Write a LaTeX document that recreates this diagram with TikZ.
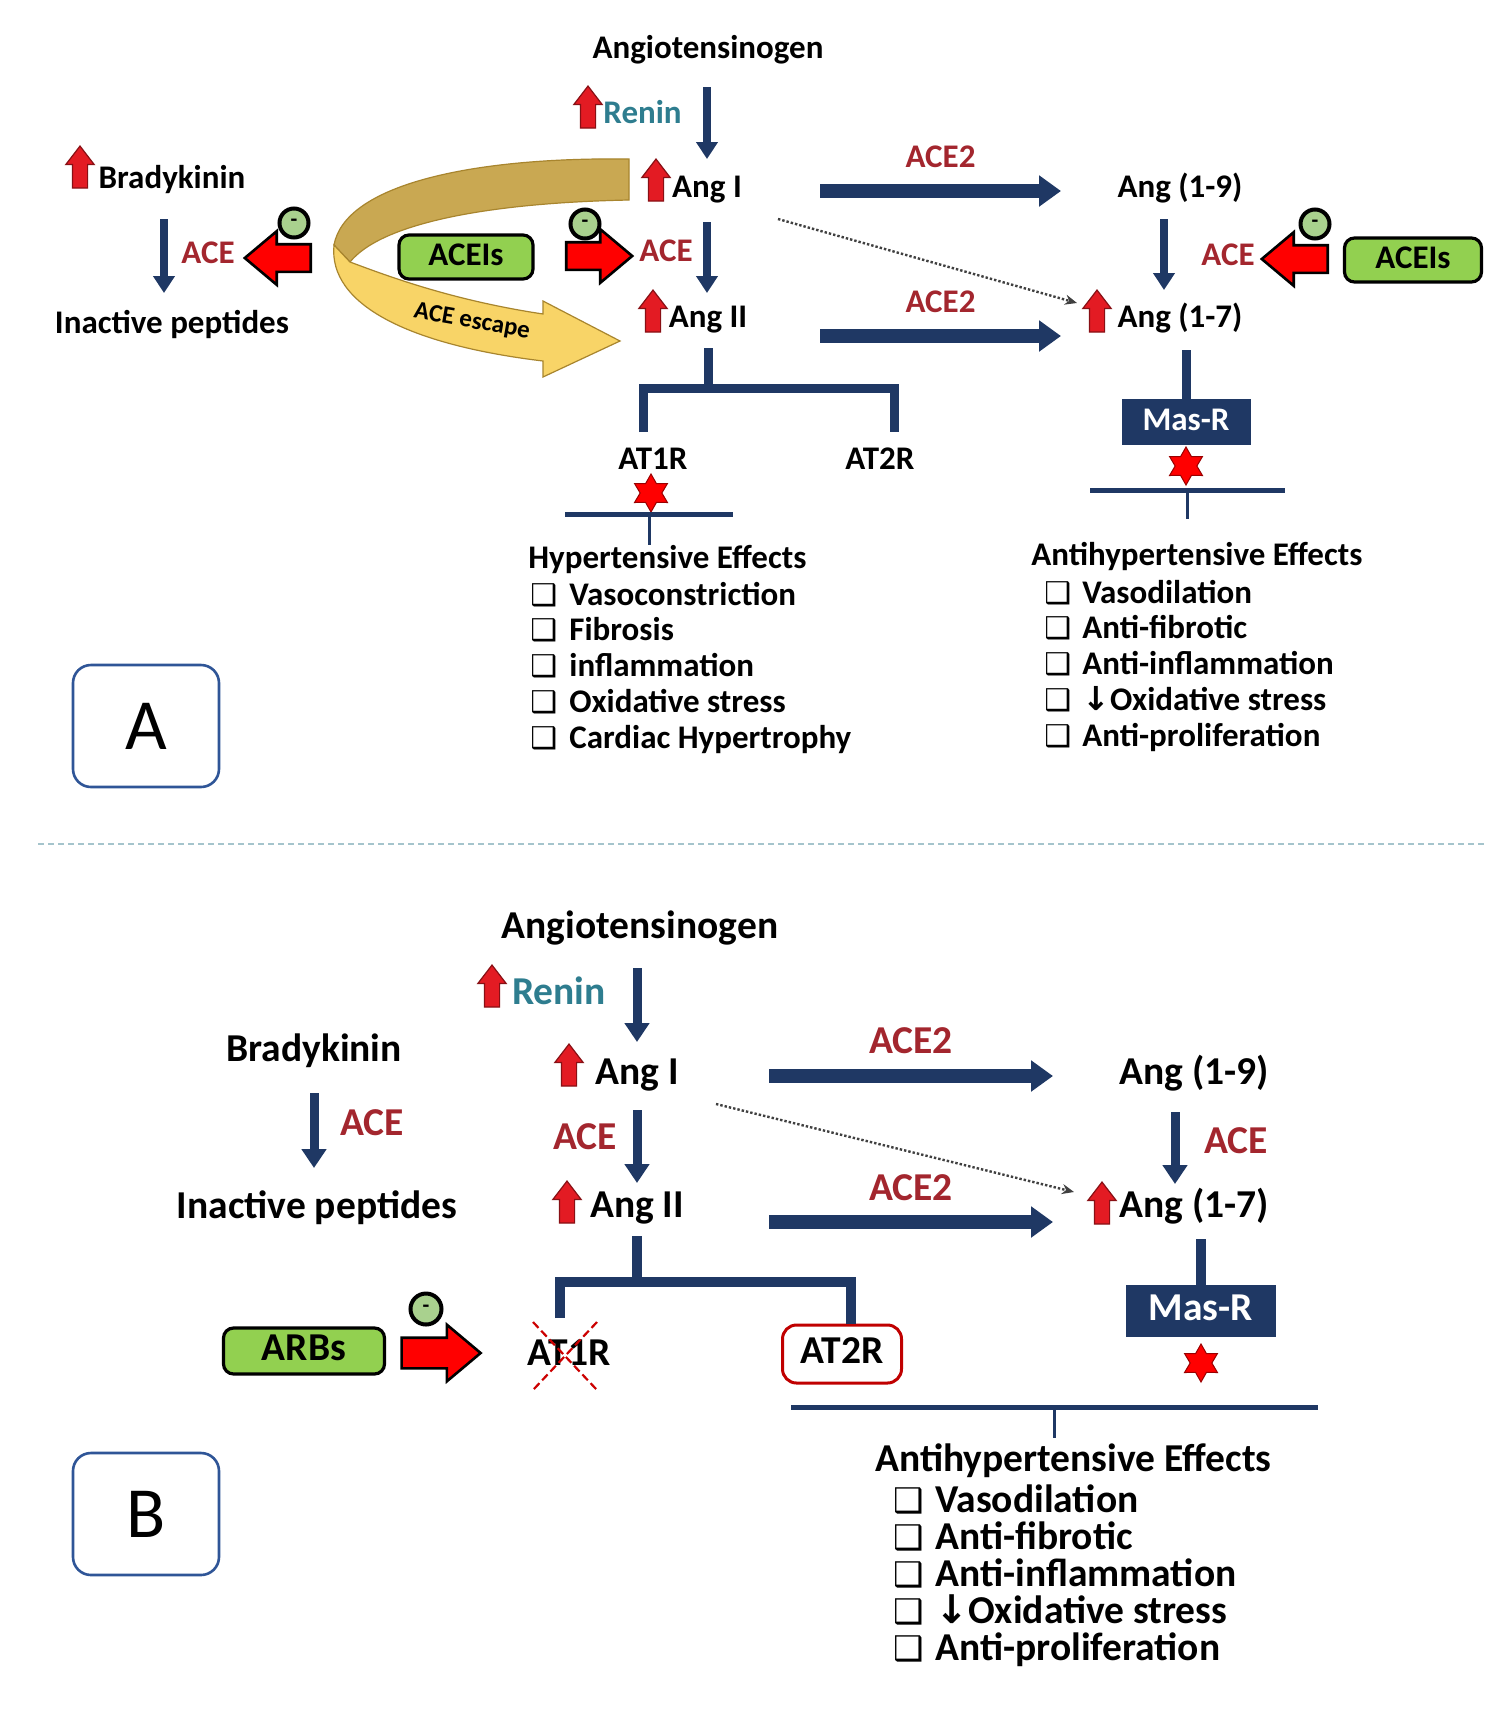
\documentclass[tikz,border=0pt]{standalone}
\usepackage{fontspec}
\setmainfont{Carlito}
\newfontfamily\symfont{DejaVu Sans}
\usetikzlibrary{arrows.meta,positioning,shapes.geometric,shapes.arrows}

\definecolor{navy}{HTML}{1F3864}
\definecolor{enzred}{HTML}{A3262E}
\definecolor{renteal}{HTML}{2E7D8F}
\definecolor{upred}{HTML}{E31B23}
\definecolor{inhgreen}{HTML}{92D050}
\definecolor{minusgreen}{HTML}{A9D18E}
\definecolor{escgold}{HTML}{C9A852}
\definecolor{escyellow}{HTML}{F8D467}
\definecolor{escline}{HTML}{A8852E}
\definecolor{panelblue}{HTML}{2F5597}
\definecolor{sepline}{HTML}{A5C4CC}
\definecolor{at2red}{HTML}{C00000}

% check box of the effect lists: glyph size, box width
\newcommand{\chk}[2]{\makebox[#2][l]{\symfont\bfseries\fontsize{#1}{#1}\selectfont ❑}}

\begin{document}
\begin{tikzpicture}[x=0.5pt,y=-0.5pt,
  tA/.style={inner sep=0pt,text height=11.5pt,text depth=3.3pt,
    font=\fontsize{16.5}{19.8}\selectfont\bfseries},
  tB/.style={inner sep=0pt,text height=13.8pt,text depth=4pt,
    font=\fontsize{19.75}{23.7}\selectfont\bfseries},
  enz/.style={text=enzred},
  ren/.style={text=renteal},
  upar/.style={single arrow,shape border rotate=90,fill=upred,draw=upred!60!black,
    line width=0.6pt,minimum height=21pt,minimum width=13.5pt,inner sep=3.5pt,
    single arrow head extend=3.25pt,single arrow tip angle=75},
  inh/.style={single arrow,fill=red,draw=black,line width=1.3pt,inner sep=6.25pt,
    minimum width=25.5pt,minimum height=33pt,single arrow head extend=6.5pt,
    single arrow tip angle=80},
  minus/.style={circle,fill=minusgreen,draw=black,line width=2pt,inner sep=0pt,
    minimum size=14.5pt,font=\bfseries\fontsize{11}{11}\selectfont},
  drug/.style={draw=black,line width=1.6pt,fill=inhgreen,rounded corners=5pt},
  masr/.style={fill=navy,text=white},
  flowA/.style={draw=navy,line width=4pt,-{Triangle[length=8.5pt,width=10.5pt]}},
  flowB/.style={draw=navy,line width=4.5pt,-{Triangle[length=9.5pt,width=12pt]}},
  ace2/.style={draw=navy,line width=7pt,-{Triangle[length=11pt,width=15pt]}},
  hint/.style={draw=black!75,densely dotted,line width=1.2pt,-{Stealth[length=6pt,width=5pt]}},
  tree/.style={draw=navy,line width=4.5pt},
  tbar/.style={fill=navy,inner sep=0pt,minimum height=2.5pt},
  stem/.style={draw=navy,line width=1.5pt},
  burst/.style={star,star points=6,star point ratio=1.75,fill=red,draw=red!60!black,
    line width=0.5pt,minimum size=19pt,inner sep=0pt},
  panel/.style={draw=panelblue,line width=1.3pt,rounded corners=9pt,
    minimum width=73pt,minimum height=61pt,font=\fontsize{36}{36}\selectfont},
  xmark/.style={draw=red!80!black,line width=1.1pt,dash pattern=on 4pt off 2pt}
]
\useasboundingbox (0,0) rectangle (1510,1714);
\fill[white] (0,0) rectangle (1510,1714);

% ---------- panel A ----------
% ACE escape ribbon
\filldraw[fill=escgold,draw=escline,line width=0.6pt] (629,159) .. controls (470,157) and (345,185) .. (334,245)
  -- (350,262) .. controls (380,225) and (480,203) .. (629,200) -- cycle;
\filldraw[fill=escyellow,draw=escline,line width=0.6pt] (334,245) .. controls (328,305) and (410,345) .. (543,361)
  -- (543,377) -- (620,341) -- (543,301) -- (543,314) .. controls (450,300) and (385,275) .. (350,262) -- cycle;
\node[rotate=-10,inner sep=0pt,font=\fontsize{12.5}{15}\selectfont\bfseries] (escA) at (472,322) {ACE escape};

\node[tA] (agoA) at (708,50) {Angiotensinogen};
\node[upar] (upRenA) at (588,112) {};
\node[tA,ren,anchor=west] (reninA) at (603,115) {Renin};
\node[upar] (upAngIA) at (656,185) {};
\node[tA] (angIA) at (707,189) {Ang I};
\node[tA,enz] (aceMA) at (666,253) {ACE};
\node[upar] (upAngIIA) at (653,316) {};
\node[tA] (angIIA) at (708,319) {Ang II};
\node[upar] (upBradyA) at (80,172) {};
\node[tA] (bradyA) at (172,180) {Bradykinin};
\node[tA,enz] (aceLA) at (208,255) {ACE};
\node[tA] (inactA) at (172,325) {Inactive peptides};
\node[drug,tA,minimum width=67pt,minimum height=22pt] (aceiLA) at (466,257) {ACEIs};
\node[inh,shape border rotate=180] (blkLA) at (286,258) {};
\node[minus] (mnLA) at (294,223) {-};
\node[inh] (blkMA) at (591,256) {};
\node[minus] (mnMA) at (585,224) {-};
\node[tA] (a19A) at (1180,189) {Ang (1-9)};
\node[tA,enz] (aceRA) at (1228,257) {ACE};
\node[inh,shape border rotate=180] (blkRA) at (1303,259) {};
\node[minus] (mnRA) at (1315,224) {-};
\node[drug,tA,minimum width=68.5pt,minimum height=22pt] (aceiRA) at (1413,260) {ACEIs};
\node[upar] (up17A) at (1097,316) {};
\node[tA] (a17A) at (1180,319) {Ang (1-7)};
\node[tA] (at1A) at (653,461) {AT1R};
\node[tA] (at2A) at (880,461) {AT2R};
\node[burst] (starA1) at (651,493) {};
\node[tbar,minimum width=84pt] (barA1) at (649,514) {};
\node[tA,anchor=west] (hypA) at (528,560) {Hypertensive Effects};
\node[masr,tA,minimum width=64.5pt,minimum height=23pt] (masRA) at (1186,422) {Mas-R};
\node[burst] (starA2) at (1186,466) {};
\node[tbar,minimum width=97.5pt] (barA2) at (1187,490) {};
\node[tA,anchor=west] (antiA) at (1031,557) {Antihypertensive Effects};
\foreach \eff [count=\i] in {Vasoconstriction,Fibrosis,inflammation,Oxidative stress,Cardiac Hypertrophy}
  \node[tA,anchor=west] (hypA\i) at (530,{597+35.75*(\i-1)}) {\chk{15}{19.5pt}\eff};
\foreach \eff [count=\i] in {Vasodilation,Anti-fibrotic,Anti-inflammation,{{\symfont ↓}Oxidative stress},Anti-proliferation}
  \node[tA,anchor=west] (antiA\i) at (1044,{595+35.75*(\i-1)}) {\chk{15}{19pt}\eff};
\node[panel] (boxA) at (146,726) {A};

\draw[flowA] ([shift={(-0.5pt,-18.5pt)}]agoA.center) -- ([yshift=15pt]angIA.center);
\draw[flowA] ([yshift=-16.5pt]angIA.center) -- ([shift={(-0.5pt,13pt)}]angIIA.center);
\draw[flowA] ([shift={(-4pt,-19.5pt)}]bradyA.center) -- ([shift={(-4pt,16pt)}]inactA.center);
\draw[flowA] ([shift={(-8pt,-15pt)}]a19A.center) -- ([shift={(-8pt,14.5pt)}]a17A.center);
\draw[ace2] ([shift={(56.5pt,-1pt)}]angIA.center) -- ([shift={(-59.5pt,-1pt)}]a19A.center)
  node[midway,above=5pt,tA,enz] (ace2TA) {ACE2};
\draw[ace2] ([shift={(56pt,-8.5pt)}]angIIA.center) -- ([shift={(-59.5pt,-8.5pt)}]a17A.center)
  node[midway,above=5pt,tA,enz] (ace2BA) {ACE2};
\draw[hint] ([shift={(35.5pt,-15pt)}]angIA.center) -- ([shift={(-51.5pt,8pt)}]a17A.center);

\coordinate (jA) at (708,388);
\draw[tree] ([yshift=-14.5pt]angIIA.center) -- (jA);
\draw[tree] ([shift={(-5pt,14.5pt)}]at1A.center) |- (jA) -| ([shift={(7pt,14.5pt)}]at2A.center);
\draw[stem] (barA1.center) -- (barA1.center |- hypA.north);
\draw[tree] (masRA.north) -- (masRA.north |- a17A.south) [shorten >=8pt];
\draw[stem,shorten >=11.5pt] (barA2.center) -- (barA2.center |- antiA.north);

% separator
\draw[sepline,line width=0.8pt,dash pattern=on 3pt off 2pt] (38,844) -- (1487,844);

% ---------- panel B ----------
\node[tB] (agoB) at (640,929) {Angiotensinogen};
\node[upar] (upRenB) at (492,991) {};
\node[tB,ren] (reninB) at (559,995) {Renin};
\node[tB] (bradyB) at (314,1052) {Bradykinin};
\node[upar] (upAngIB) at (569,1070) {};
\node[tB] (angIB) at (637,1075) {Ang I};
\node[tB,enz] (aceMB) at (585,1140) {ACE};
\node[tB,enz] (aceLB) at (372,1126) {ACE};
\node[upar] (upAngIIB) at (567,1207) {};
\node[tB] (angIIB) at (637,1208) {Ang II};
\node[tB] (inactB) at (317,1209) {Inactive peptides};
\node[tB] (a19B) at (1194,1075) {Ang (1-9)};
\node[tB,enz] (aceRB) at (1236,1144) {ACE};
\node[upar] (up17B) at (1102,1208) {};
\node[tB] (a17B) at (1194,1208) {Ang (1-7)};
\node[tB] (at1B) at (569,1356) {AT1R};
\node[tB,draw=at2red,line width=1.5pt,rounded corners=7pt,minimum width=59.5pt,minimum height=29pt] (at2B) at (842,1354) {AT2R};
\node[drug,tB,minimum width=80.5pt,minimum height=23pt] (arbB) at (304,1351) {ARBs};
\node[inh,minimum width=27pt,minimum height=39.5pt,inner sep=7pt,single arrow head extend=6.5pt] (blkB) at (432,1353) {};
\node[minus,minimum size=15.5pt] (mnB) at (426,1309) {-};
\node[masr,tB,minimum width=75pt,minimum height=26pt] (masRB) at (1201,1311) {Mas-R};
\node[burst] (starB) at (1201,1363) {};
\node[tbar,minimum width=263.5pt] (barB) at (1054,1407) {};
\node[tB,anchor=west] (antiB) at (875,1462) {Antihypertensive Effects};
\foreach \eff [count=\i] in {Vasodilation,Anti-fibrotic,Anti-inflammation,{{\symfont ↓}Oxidative stress},Anti-proliferation}
  \node[tB,anchor=west] (antiB\i) at (893,{1503+37*(\i-1)}) {\chk{17}{21pt}\eff};
\node[panel] (boxB) at (146,1514) {B};

\draw[flowB] ([shift={(-1.5pt,-19.5pt)}]agoB.center) -- ([yshift=16.5pt]angIB.center);
\draw[flowB] ([yshift=-17.5pt]angIB.center) -- ([yshift=12.5pt]angIIB.center);
\draw[flowB] ([yshift=-20.5pt]bradyB.center) -- ([shift={(-1.5pt,20.5pt)}]inactB.center);
\draw[flowB] ([shift={(-9.5pt,-18.5pt)}]a19B.center) -- ([shift={(-9.5pt,12pt)}]a17B.center);
\draw[ace2] ([shift={(66pt,-0.5pt)}]angIB.center) -- ([shift={(-70.5pt,-0.5pt)}]a19B.center)
  node[midway,above=4pt,tB,enz] (ace2TB) {ACE2};
\draw[ace2] ([shift={(66pt,-7pt)}]angIIB.center) -- ([shift={(-70.5pt,-7pt)}]a17B.center)
  node[midway,above=3.5pt,tB,enz] (ace2BB) {ACE2};
\draw[hint] ([shift={(39.5pt,-14.5pt)}]angIB.center) -- ([shift={(-60pt,8pt)}]a17B.center);

\coordinate (jB) at (637,1282);
\draw[tree,line width=5pt] ([yshift=-14pt]angIIB.center) -- (jB);
\draw[tree,line width=5pt] ([shift={(-4.5pt,19pt)}]at1B.center) |- (jB) -| ([xshift=4.5pt]at2B.north);
\draw[xmark] ([shift={(-18pt,17pt)}]at1B.center) -- ([shift={(14pt,-17pt)}]at1B.center);
\draw[xmark] ([shift={(14pt,17pt)}]at1B.center) -- ([shift={(-18pt,-17pt)}]at1B.center);
\draw[tree,line width=5pt,shorten >=6.5pt] (masRB.north) -- (masRB.north |- a17B.south);
\draw[stem,shorten >=3pt] (barB.center) -- (barB.center |- antiB.north);
\end{tikzpicture}
\end{document}
